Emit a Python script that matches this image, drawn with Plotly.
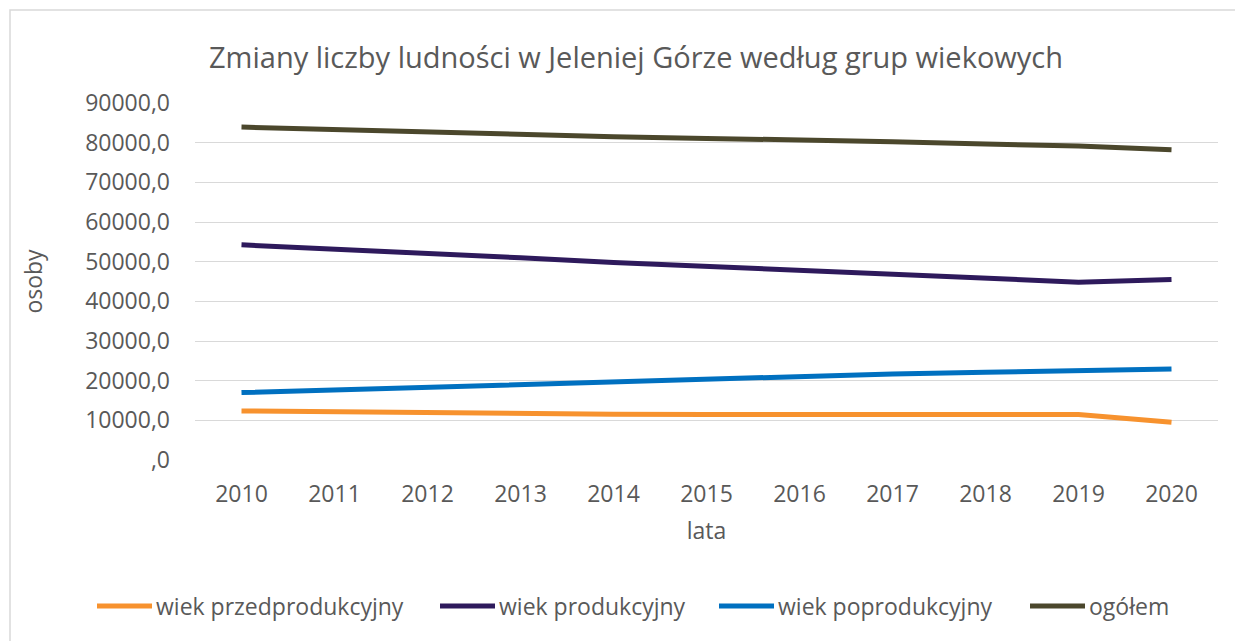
import plotly.graph_objects as go

years = [2010, 2011, 2012, 2013, 2014, 2015, 2016, 2017, 2018, 2019, 2020]
przedprodukcyjny = [12360, 12110, 11770, 11600, 11520, 11440, 11440, 11440, 11420, 11440, 9500]
produkcyjny = [54250, 53240, 52140, 50970, 49790, 48780, 47770, 46850, 45840, 44830, 45500]
poprodukcyjny = [16990, 17660, 18330, 19090, 19850, 20520, 21190, 21700, 22120, 22540, 22960]
ogolem = [83930, 83260, 82590, 82000, 81500, 81080, 80740, 80240, 79650, 79140, 78220]

series_names = ["wiek przedprodukcyjny", "wiek produkcyjny", "wiek poprodukcyjny", "ogółem"]
series_colors = ["#F7922E", "#2E1A5C", "#0070C0", "#4B472C"]

y_tick_vals = [0, 10000, 20000, 30000, 40000, 50000, 60000, 70000, 80000, 90000]
y_tick_text = [",0", "10000,0", "20000,0", "30000,0", "40000,0", "50000,0",
               "60000,0", "70000,0", "80000,0", "90000,0"]

FONT = "Open Sans"
GREY = "#595959"

W, H = 1235, 641
L, R, T, B = 195, 17, 103, 181
pw, ph = W - L - R, H - T - B


def px_x(p):
    return (p - L) / pw


def px_y(p):
    return (H - B - p) / ph


fig = go.Figure()
for name, vals, col in zip(series_names, [przedprodukcyjny, produkcyjny, poprodukcyjny, ogolem], series_colors):
    fig.add_trace(go.Scatter(x=years, y=vals, mode="lines", name=name, showlegend=False,
                             line=dict(color=col, width=5)))

fig.update_layout(
    width=W, height=H,
    margin=dict(l=L, r=R, t=T, b=B),
    paper_bgcolor="white", plot_bgcolor="white",
    font=dict(family=FONT, color=GREY, size=23),
    title=dict(text="Zmiany liczby ludności w Jeleniej Górze według grup wiekowych",
               x=636 / W, xanchor="center", y=1 - 58 / H, yanchor="middle",
               font=dict(size=29, color=GREY, family=FONT)),
    xaxis=dict(range=[2009.5, 2020.5], tickmode="array", tickvals=years,
               ticktext=[str(y) for y in years], showgrid=False, zeroline=False,
               showline=False, ticks="", ticklabelstandoff=18, tickfont=dict(size=23, color=GREY),
               title=dict(text="lata", font=dict(size=23, color=GREY), standoff=14)),
    yaxis=dict(range=[0, 90000], tickmode="array", tickvals=y_tick_vals, ticktext=y_tick_text,
               showgrid=True, gridcolor="#D9D9D9", gridwidth=1.3, zeroline=False,
               showline=False, ticks="", ticklabelstandoff=24, tickfont=dict(size=23, color=GREY),
               title=dict(text="osoby", font=dict(size=23, color=GREY), standoff=36)),
    showlegend=False,
)

# chart frame
fig.add_shape(type="rect", xref="paper", yref="paper",
              x0=px_x(10), x1=px_x(1250), y0=px_y(655), y1=px_y(10),
              line=dict(color="#D9D9D9", width=1.5), fillcolor="rgba(0,0,0,0)", layer="below")

# legend (drawn manually to match long line swatches)
legend_line_x = [(97, 152), (440, 495), (719, 774), (1030, 1085)]
legend_y = 606
for (x0, x1), name, col in zip(legend_line_x, series_names, series_colors):
    fig.add_shape(type="line", xref="paper", yref="paper",
                  x0=px_x(x0), x1=px_x(x1), y0=px_y(legend_y), y1=px_y(legend_y),
                  line=dict(color=col, width=5))
    fig.add_annotation(xref="paper", yref="paper", x=px_x(x1 + 2), y=px_y(legend_y),
                       xanchor="left", yanchor="middle", text=name, showarrow=False,
                       font=dict(size=23, color=GREY, family=FONT))

fig.write_html("out.html", config={"displayModeBar": False},
               post_script="document.body.style.margin='0';document.body.style.overflow='hidden';")
